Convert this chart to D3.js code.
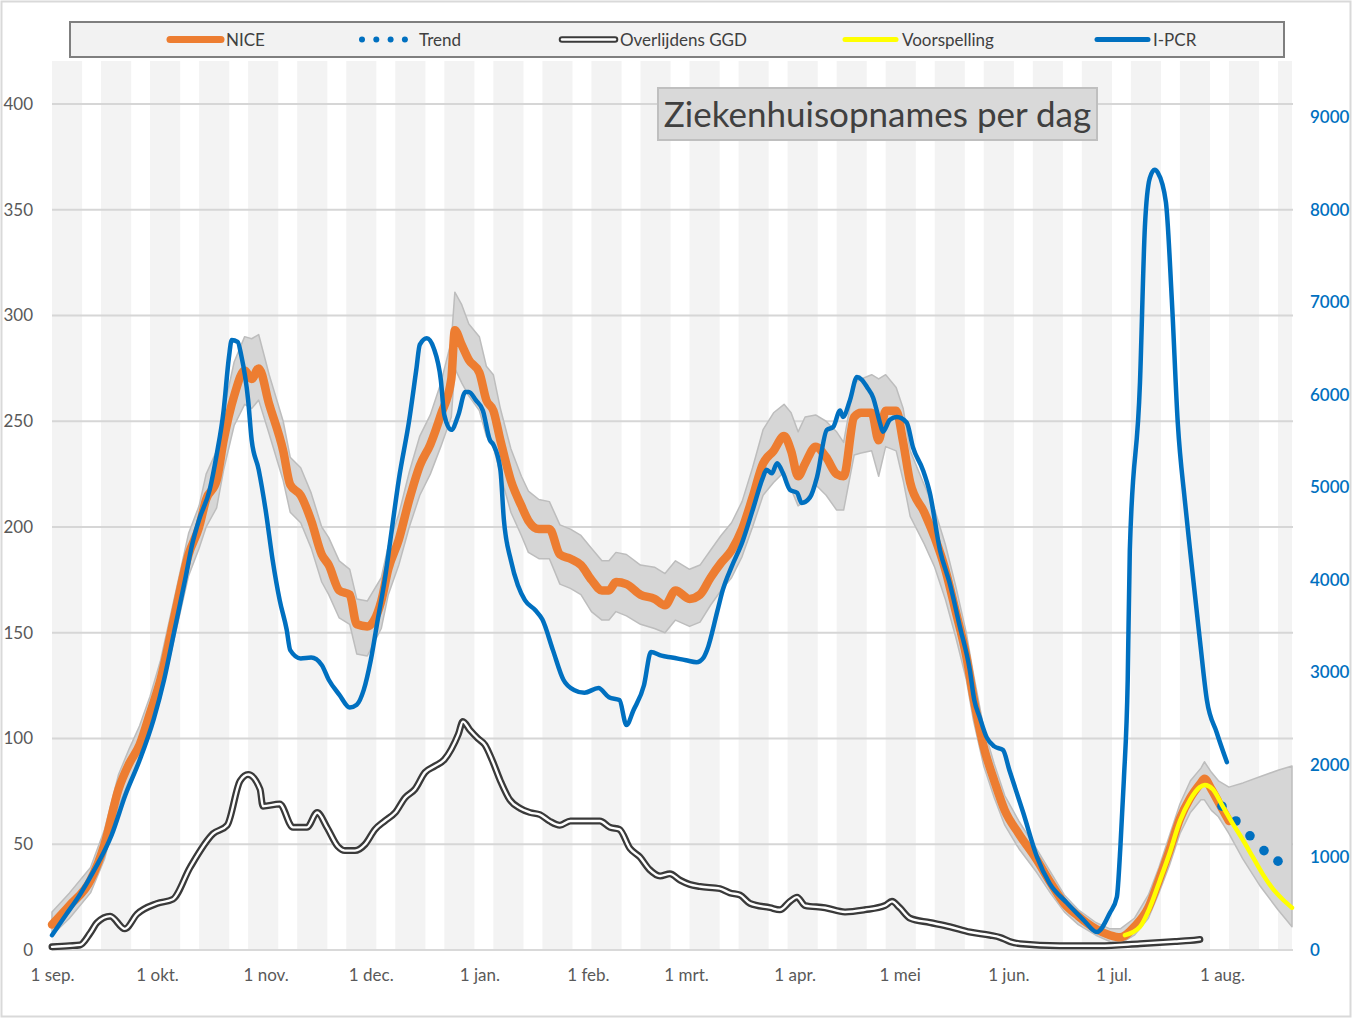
<!DOCTYPE html>
<html><head><meta charset="utf-8">
<script src="https://cdn.jsdelivr.net/npm/d3@7"></script>
<style>
html,body{margin:0;padding:0;background:#fff;}
svg{display:block;font-family:Lato,"Open Sans",sans-serif;}
</style></head>
<body>
<svg id="chart" width="1352" height="1018"></svg>
<script>
// ---------- DATA (day offset from 1 sep 2020) ----------
const monthTicks = ["2020-09-01","2020-10-01","2020-11-01","2020-12-01","2021-01-01","2021-02-01","2021-03-01","2021-04-01","2021-05-01","2021-06-01","2021-07-01","2021-08-01"];
const monthLabels = ["1 sep.","1 okt.","1 nov.","1 dec.","1 jan.","1 feb.","1 mrt.","1 apr.","1 mei","1 jun.","1 jul.","1 aug."];
const leftTicks = [0,50,100,150,200,250,300,350,400];
const rightTicks = [0,1000,2000,3000,4000,5000,6000,7000,8000,9000];
const seriesNames = ["NICE","Trend","Overlijdens GGD","Voorspelling","I-PCR"];

// NICE: [day, value, ciLow, ciHigh]
const nice = [
[0,12,7,18],[5,21,15,27],[11,33,27,39],[15,50,43,57],[19,76,68,83],[22,88,80,95],[25,97,89,106],
[28,112,104,120],[31,128,119,137],[35,158,148,167],[39,187,177,197],[42,200,190,210],[44,213,200,225],
[47,222,209,236],[49,241,227,255],[52,262,248,278],[55,274,258,290],[57,270,256,289],[59,275,260,291],
[62,258,244,272],[66,236,222,250],[68,220,207,233],[71,215,202,228],[74,203,190,216],[77,187,174,200],
[79,182,168,195],[82,170,157,184],[85,168,154,180],[87,154,140,166],[90,153,139,165],[94,165,152,176],
[96,180,168,191],[99,194,182,206],[102,213,200,226],[105,229,215,243],[108,239,225,253],[111,253,238,268],
[114,270,252,288],[115,293,275,311],[117,286,268,305],[119,279,262,296],[122,273,255,290],[124,260,243,276],
[126,255,238,272],[128,241,225,256],[131,222,207,237],[134,210,196,224],[136,203,188,217],[139,199,185,213],
[142,199,185,212],[145,187,173,201],[148,185,171,199],[151,182,168,196],[154,175,160,190],[157,170,156,184],
[159,170,156,184],[161,174,160,188],[164,173,158,187],[168,168,154,182],[172,166,152,181],[175,163,150,178],
[178,170,156,184],[182,166,153,180],[185,168,155,182],[188,176,163,189],[191,183,170,196],[194,189,176,202],
[197,199,186,212],[200,214,200,228],[203,230,215,246],[206,236,221,254],[209,243,226,258],[211,236,218,254],
[213,224,210,245],[215,230,212,252],[218,238,220,253],[221,233,215,250],[224,225,208,245],[226,224,208,240],
[229,252,234,268],[231,254,235,270],[234,254,236,272],[236,241,224,270],[238,255,238,272],[241,255,236,266],
[243,240,222,256],[245,221,205,236],[249,207,192,220],[252,195,181,208],[255,180,166,192],[258,160,148,172],
[261,139,128,150],[263,120,109,131],[266,96,87,105],[269,80,72,88],[272,66,59,73],[276,55,48,61],
[281,43,37,48],[285,32,27,37],[289,22,18,26],[293,16,12,19],[298,10,7,13],[302,7,4,10],[305,6,3,10],
[309,11,7,15],[313,20,15,26],[316,33,27,39],[319,47,40,54],[322,62,55,69],[325,72,65,80],
[328,79,71,86],[329,81,71,89],[331,76,66,84],[333,70,63,80],[336,61,55,77]
];
// Forecast confidence band beyond last NICE point: [day, low, high]
const ciForecast = [[340,43,79],[345,30,82],[350,19,85],[354,11,87]];

// I-PCR (right axis): [day, value]
const ipcr = [
[0,160],[4,380],[8,600],[12,860],[17,1240],[21,1680],[25,2050],[29,2490],[32,2920],[35,3460],[38,4000],
[40,4380],[42,4650],[45,4970],[47,5350],[49,5830],[50.5,6400],[51.3,6590],[53,6570],[54,6430],[56,5940],
[57,5510],[59,5190],[61,4750],[63,4210],[65,3780],[67,3460],[68,3240],[71,3150],[74,3160],[77,3080],
[79,2920],[82,2760],[85,2620],[87,2650],[89,2810],[91,3130],[93,3570],[95,4000],[97,4540],[99,5080],
[102,5730],[104,6270],[105,6540],[107,6610],[109,6500],[111,6160],[112,5780],[114,5620],[116,5780],
[118,6030],[119,6030],[121,5940],[123,5830],[125,5510],[126,5460],[128,5190],[129,4650],[131,4210],
[133,3940],[135,3780],[138,3670],[140,3570],[143,3240],[146,2920],[149,2810],[152,2780],[156,2830],
[159,2730],[162,2700],[164,2430],[166,2590],[169,2860],[171,3220],[174,3180],[177,3160],[181,3130],
[184,3110],[186,3160],[187,3240],[190,3670],[191.5,3890],[194,4140],[197,4400],[200,4750],[203,5110],
[204,5190],[205.5,5150],[207,5260],[208.7,5150],[210.7,4970],[212.7,4940],[214,4830],[216.4,4890],
[218.4,5110],[221.2,5620],[223,5650],[225,5830],[225.8,5760],[227.8,5940],[229.8,6190],[231.2,6160],
[232.7,6080],[234.4,5970],[236.4,5690],[237.2,5600],[239.2,5730],[241.2,5760],[244,5700],[245.8,5430],
[248.6,5190],[250.6,4940],[253.5,4320],[256.3,3960],[259.2,3490],[262,3030],[263.3,2700],[264.8,2520],
[266.8,2300],[269,2200],[271.5,2160],[273.3,1945],[277.3,1480],[281.2,1005],[284.8,720],[289.7,510],
[294.5,324],[298.3,194],[302,400],[304,573],[305,1110],[306,1840],[307.1,2920],[307.7,4320],
[310.6,6130],[312,7810],[313.4,8340],[314.8,8430],[315.7,8400],[318,8080],[319.7,7020],[321.4,5690],
[323.4,4860],[324.9,4320],[327.7,3350],[329.7,2700],[332.5,2350],[335.4,2030]
];

// Overlijdens GGD (left axis): [day, value]
const deaths = [
[0,1.5],[5,2],[8,2.4],[10.9,8],[12.9,13],[16.6,16],[20.8,10],[24.3,17],[30,22],[34.5,24],[39.4,39],
[46,55],[50,59],[53.7,80],[56,83],[59.4,76],[60.2,68],[65,69],[68.8,58],[72.8,58],[75.7,65],[78.5,58],
[81.6,49],[83.6,47],[86.5,47],[89.4,50],[92.2,57],[95,61],[98,65],[100.8,72],[103.6,76],[106.5,84],
[109.3,87],[112,90],[114,95],[116,102],[117.3,108],[119.3,104],[121.6,100],[123.6,97],[125.6,90],
[128,80],[130.7,71],[133.6,67],[136.5,65],[139.3,64],[142,61],[145,59],[148,61],[153.6,61],[156.4,61],
[159.3,58],[162,57],[165,48],[167.8,44],[170.6,38],[173.6,35],[176.4,36],[179.3,33],[182,31],[185,30],
[190.7,29],[193.5,27],[196.4,26],[199.3,22],[205,20],[207.8,19],[210.7,23],[212.7,25],[215,21],
[220.7,20],[226.4,18],[232,19],[237.8,21],[239.8,23],[242,20],[245,15],[250.6,13],[256.3,11],[262,8.5],
[267.8,7],[270.6,6],[273.5,4],[276.3,3],[287.7,2],[299,2],[310.6,3],[320.6,4],[324.9,4.5],[327.7,5]
];

// Voorspelling (left axis): [day, value]
const forecast = [
[306.3,7],[310.6,11],[313.4,20],[316.3,33],[319.1,46],[322,61],[324.9,71],[327.7,77],[329.1,78],
[331.4,76],[334.2,68],[337,60],[340,52],[342.8,44],[345.6,36],[348.5,29],[351.3,24],[354,20]
];

// Trend (left axis): [day, value]
const trend = [[334,68],[338,61],[342,54],[346,47],[350,42]];

// ---------- SETUP ----------
const svg = d3.select("#chart");
const base = Date.UTC(2020,8,1);
const toDate = d => new Date(base + d*864e5);
const x = d3.scaleUtc().domain([toDate(0), toDate(354)]).range([52,1292]);
const yL = d3.scaleLinear().domain([0,400]).range([950,104]);
const yR = d3.scaleLinear().domain([0,9000]).range([950,117]);
const plotTop = 61, plotBottom = 950;

// outer border
svg.append("rect").attr("x",1.5).attr("y",1.5).attr("width",1349).attr("height",1015)
  .attr("fill","#fff").attr("stroke","#d9d9d9").attr("stroke-width",2);

// background stripes (two-week rhythm)
const stripeDays = d3.range(0,354,14);
svg.append("g").selectAll("rect").data(stripeDays).join("rect")
  .attr("x", d => x(toDate(d)))
  .attr("width", d => x(toDate(Math.min(d+8.6,354))) - x(toDate(d)))
  .attr("y", plotTop).attr("height", plotBottom-plotTop)
  .attr("fill","#f3f3f3");

// gridlines
svg.append("g").selectAll("line").data(leftTicks.filter(t=>t>0)).join("line")
  .attr("x1",52).attr("x2",1293).attr("y1",d=>yL(d)).attr("y2",d=>yL(d))
  .attr("stroke","#d6d6d6").attr("stroke-width",2);
svg.append("line").attr("x1",52).attr("x2",1293).attr("y1",950).attr("y2",950)
  .attr("stroke","#d9d9d9").attr("stroke-width",2);

// axes
const axL = svg.append("g").attr("transform","translate(52,0)")
  .call(d3.axisLeft(yL).tickValues(leftTicks).tickFormat(d3.format("d")).tickSize(0).tickPadding(19));
const axR = svg.append("g").attr("transform","translate(1292,0)")
  .call(d3.axisRight(yR).tickValues(rightTicks).tickFormat(d3.format("d")).tickSize(0).tickPadding(18));
const axB = svg.append("g").attr("transform","translate(0,950)")
  .call(d3.axisBottom(x).tickValues(monthTicks.map(s=>new Date(s+"T00:00:00Z")))
    .tickFormat((d,i)=>monthLabels[i]).tickSize(0).tickPadding(19));
[axL,axR,axB].forEach(a=>{a.select(".domain").remove();});
axL.selectAll("text").attr("fill","#595959").style("font-size","17px").style("font-family","Lato");
axB.selectAll("text").attr("fill","#595959").style("font-size","17px").style("font-family","Lato");
axR.selectAll("text").attr("fill","#0070c0").style("font-size","17px").style("font-family","Lato").style("font-weight","600");

// confidence band
const band = nice.map(d=>[d[0],d[2],d[3]]).concat(ciForecast);
svg.append("path").datum(band)
  .attr("d", d3.area().x(d=>x(toDate(d[0]))).y0(d=>yL(d[1])).y1(d=>yL(d[2])).curve(d3.curveLinear))
  .attr("fill","#d6d6d6").attr("stroke","#bdbdbd").attr("stroke-width",1.5).attr("stroke-linejoin","round");

// deaths double line
const lineL = d3.line().x(d=>x(toDate(d[0]))).y(d=>yL(d[1])).curve(d3.curveMonotoneX);
const lineR = d3.line().x(d=>x(toDate(d[0]))).y(d=>yR(d[1])).curve(d3.curveMonotoneX);
svg.append("path").datum(deaths).attr("d",lineL).attr("fill","none")
  .attr("stroke","#3a3a3a").attr("stroke-width",7).attr("stroke-linejoin","round").attr("stroke-linecap","round");
svg.append("path").datum(deaths).attr("d",lineL).attr("fill","none")
  .attr("stroke","#ffffff").attr("stroke-width",2.4).attr("stroke-linejoin","round").attr("stroke-linecap","round");

// NICE
svg.append("path").datum(nice).attr("d",lineL).attr("fill","none")
  .attr("stroke","#ed7d31").attr("stroke-width",8.5).attr("stroke-linejoin","round").attr("stroke-linecap","round");

// I-PCR
svg.append("path").datum(ipcr).attr("d",lineR).attr("fill","none")
  .attr("stroke","#0070c0").attr("stroke-width",4.5).attr("stroke-linejoin","round").attr("stroke-linecap","round");

// trend dots
svg.append("g").selectAll("circle").data(trend).join("circle")
  .attr("cx",d=>x(toDate(d[0]))).attr("cy",d=>yL(d[1])).attr("r",4.8).attr("fill","#0070c0");

// Voorspelling
svg.append("path").datum(forecast).attr("d",lineL).attr("fill","none")
  .attr("stroke","#ffff00").attr("stroke-width",4.5).attr("stroke-linejoin","round").attr("stroke-linecap","round");

// title box
const tg = svg.append("g");
tg.append("rect").attr("x",658).attr("y",88).attr("width",439).attr("height",52)
  .attr("fill","#d9d9d9").attr("stroke","#bfbfbf").attr("stroke-width",2);
tg.append("text").attr("x",877.5).attr("y",127).attr("text-anchor","middle")
  .attr("fill","#404040").style("font-size","35px").style("font-family","Lato")
  .text("Ziekenhuisopnames per dag");

// legend
const lg = svg.append("g");
lg.append("rect").attr("x",70).attr("y",22).attr("width",1214).attr("height",35)
  .attr("fill","#f2f2f2").attr("stroke","#7f7f7f").attr("stroke-width",2);
const ly = 39.5;
// NICE
lg.append("line").attr("x1",170).attr("x2",221).attr("y1",ly).attr("y2",ly)
  .attr("stroke","#ed7d31").attr("stroke-width",7).attr("stroke-linecap","round");
// Trend
lg.selectAll("circle.t").data([0,1,2,3]).join("circle").attr("class","t")
  .attr("cx",d=>362+d*14.3).attr("cy",ly).attr("r",3).attr("fill","#0070c0");
// Overlijdens
lg.append("line").attr("x1",562).attr("x2",615).attr("y1",ly).attr("y2",ly)
  .attr("stroke","#3a3a3a").attr("stroke-width",6.5).attr("stroke-linecap","round");
lg.append("line").attr("x1",562).attr("x2",615).attr("y1",ly).attr("y2",ly)
  .attr("stroke","#ffffff").attr("stroke-width",2.4).attr("stroke-linecap","round");
// Voorspelling
lg.append("line").attr("x1",845).attr("x2",896).attr("y1",ly).attr("y2",ly)
  .attr("stroke","#ffff00").attr("stroke-width",5).attr("stroke-linecap","round");
// I-PCR
lg.append("line").attr("x1",1097).attr("x2",1148).attr("y1",ly).attr("y2",ly)
  .attr("stroke","#0070c0").attr("stroke-width",5).attr("stroke-linecap","round");
const legendTextX = [226,419,620,902,1153];
lg.selectAll("text").data(seriesNames).join("text")
  .attr("x",(d,i)=>legendTextX[i]).attr("y",ly+6)
  .attr("fill","#404040").style("font-size","17px").style("font-family","Lato")
  .text(d=>d);
</script>
</body></html>
